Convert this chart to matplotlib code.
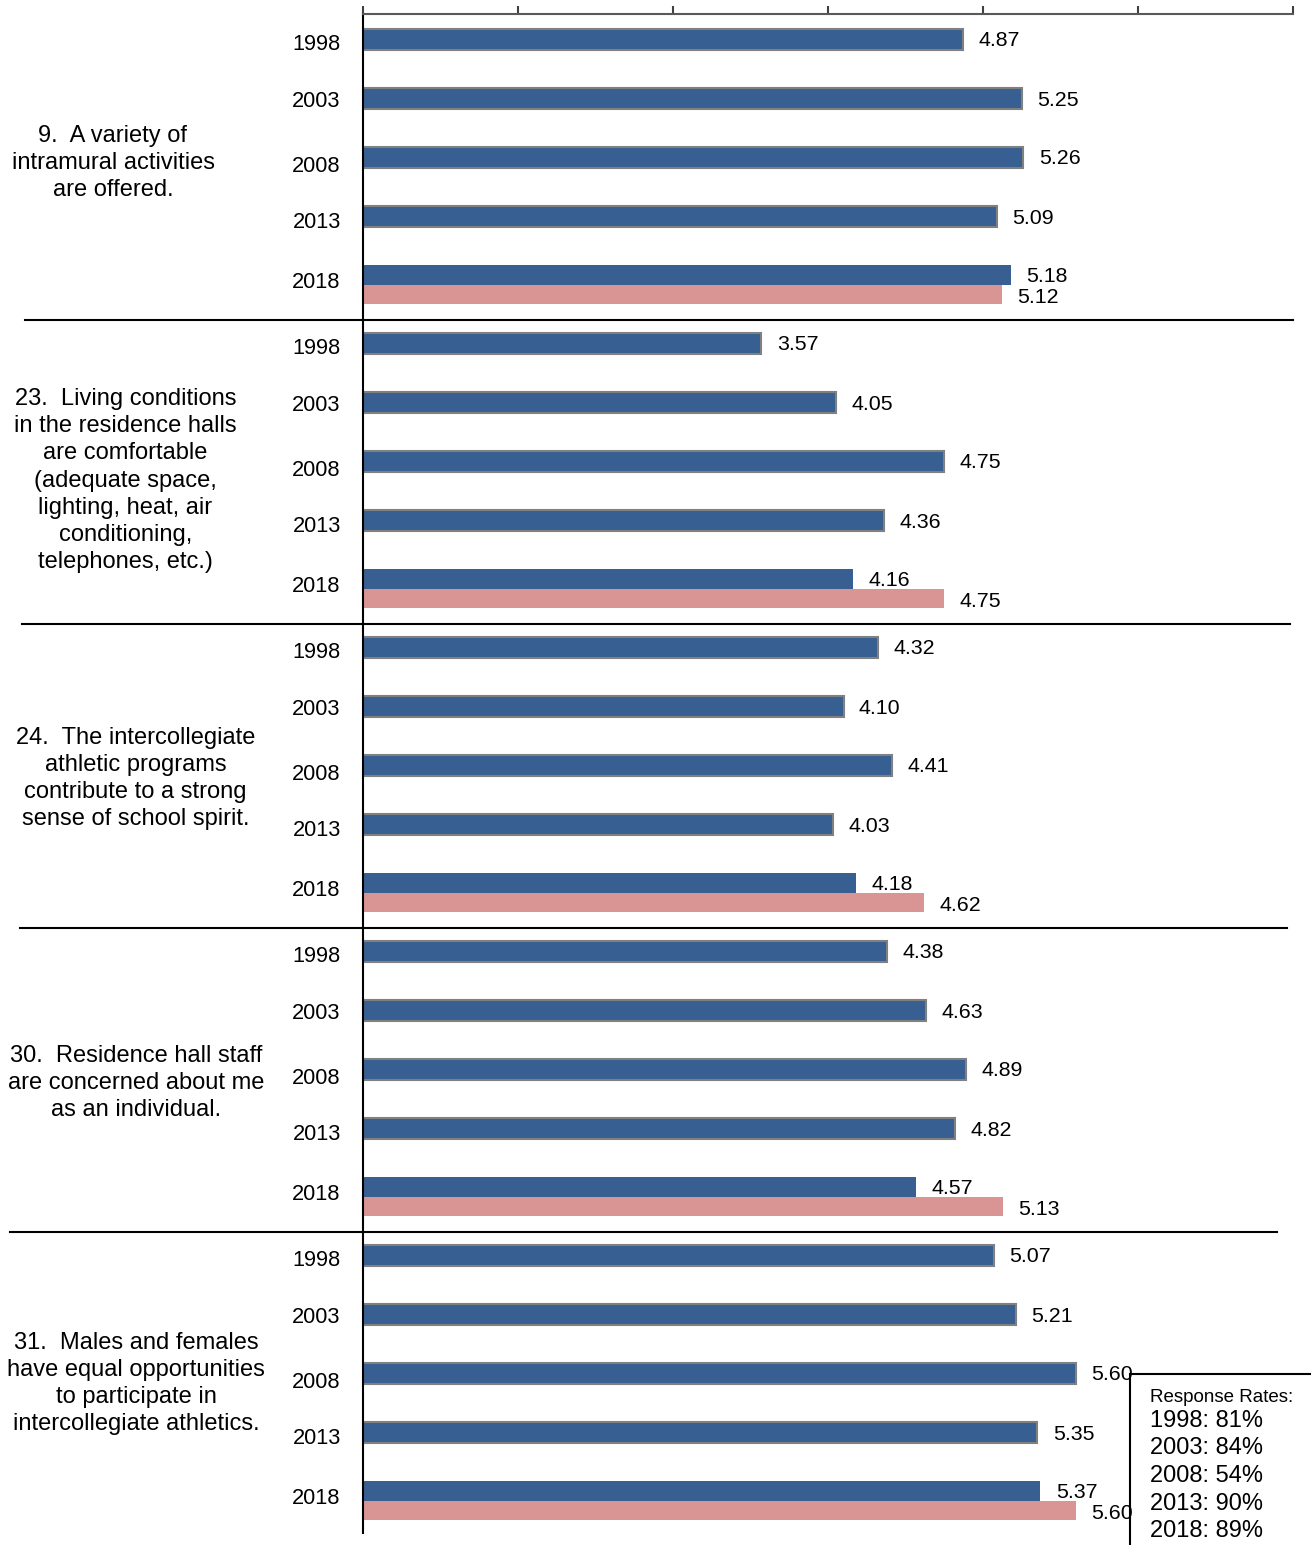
import matplotlib.pyplot as plt
import matplotlib.transforms as mtransforms
from matplotlib.patches import Rectangle

plt.rcParams['font.family'] = ['Liberation Sans', 'DejaVu Sans']

years = ['1998', '2003', '2008', '2013', '2018']
questions = [
    '9.  A variety of\nintramural activities\nare offered.',
    '23.  Living conditions\nin the residence halls\nare comfortable\n(adequate space,\nlighting, heat, air\nconditioning,\ntelephones, etc.)',
    '24.  The intercollegiate\nathletic programs\ncontribute to a strong\nsense of school spirit.',
    '30.  Residence hall staff\nare concerned about me\nas an individual.',
    '31.  Males and females\nhave equal opportunities\nto participate in\nintercollegiate athletics.',
]
# blue bars: one value per year, per question
blue_vals = [
    [4.87, 5.25, 5.26, 5.09, 5.18],
    [3.57, 4.05, 4.75, 4.36, 4.16],
    [4.32, 4.10, 4.41, 4.03, 4.18],
    [4.38, 4.63, 4.89, 4.82, 4.57],
    [5.07, 5.21, 5.60, 5.35, 5.37],
]
# pink bar shown under 2018
pink_vals = [5.12, 4.75, 4.62, 5.13, 5.60]
rates = ['1998: 81%', '2003: 84%', '2008: 54%', '2013: 90%', '2018: 89%']

blue = '#375f91'
pink = '#d99594'

W, H = 1311, 1545
fig = plt.figure(figsize=(W / 100, H / 100), dpi=100)
ax = fig.add_axes([363 / W, 1 - 1533 / H, (1293 - 363) / W, (1533 - 14) / H])

group_step, row_step = 304, 59
lab_shift = [3, 1, 7, 4, -5]   # year labels sit a little off the bars
tick_pos, tick_lab = [], []
for g in range(5):
    base = g * group_step
    for i, yr in enumerate(years):
        y = base + i * row_step
        v = blue_vals[g][i]
        if i < 4:
            ax.barh(y, v - 1, left=1, height=21, color=blue, edgecolor='#808080', linewidth=1.5)
            ax.text(v + 0.1, y, f'{v:.2f}', va='center_baseline', ha='left', fontsize=15.4)
            tick_pos.append(y + lab_shift[i])
        else:
            yp = y + 19.5
            ax.barh(y, v - 1, left=1, height=19.5, color=blue, linewidth=0)
            ax.barh(yp, pink_vals[g] - 1, left=1, height=19.5, color=pink, linewidth=0)
            ax.text(v + 0.1, y, f'{v:.2f}', va='center_baseline', ha='left', fontsize=15.4)
            ax.text(pink_vals[g] + 0.1, yp + 1, f'{pink_vals[g]:.2f}', va='center_baseline',
                    ha='left', fontsize=15.4)
            tick_pos.append(y + 9.75 + lab_shift[i])
        tick_lab.append(yr)

ax.set_xlim(1, 7)
ax.set_ylim(1494, -25)
ax.set_yticks(tick_pos)
ax.set_yticklabels(tick_lab, fontsize=15.7)
ax.tick_params(axis='y', length=0, pad=16)
ax.xaxis.tick_top()
ax.set_xticks(range(1, 8))
ax.tick_params(axis='x', direction='out', length=6, width=1.5, color='#404040', labeltop=False)
for s in ['right', 'bottom']:
    ax.spines[s].set_visible(False)
ax.spines['top'].set_color('#595959')
ax.spines['top'].set_linewidth(1.5)
ax.spines['left'].set_linewidth(1.5)

# separators between questions (x in figure px, y in data)
trans = mtransforms.blended_transform_factory(fig.transFigure, ax.transData)
sep_x = [(25, 1293), (22, 1290), (20, 1287), (10, 1277)]
for g, (x0, x1) in enumerate(sep_x):
    y = g * group_step + 281
    ax.plot([x0 / W, x1 / W], [y, y], transform=trans, color='black', lw=1.5, clip_on=False)

q_x = [113, 125.5, 135.5, 136, 136]
q_dy = [124, 137.5, 131.5, 132, 128.5]
for g, q in enumerate(questions):
    ax.text(q_x[g] / W, g * group_step + q_dy[g], q, transform=trans, ha='center', va='center',
            fontsize=17, linespacing=1.3)

# response rate box
fig.patches.append(Rectangle((1130 / W, -0.05), 0.2, 0.05 + (H - 1374) / H,
                             transform=fig.transFigure, fill=False, edgecolor='black', lw=1.5))
fig.text(1150 / W, 1 - 1397 / H, 'Response Rates:', fontsize=13.5, va='center', ha='left')
for i, r in enumerate(rates):
    fig.text(1150 / W, 1 - (1421 + i * 27.5) / H, r, fontsize=17, va='center', ha='left')

fig.savefig('out.png', dpi=100)
